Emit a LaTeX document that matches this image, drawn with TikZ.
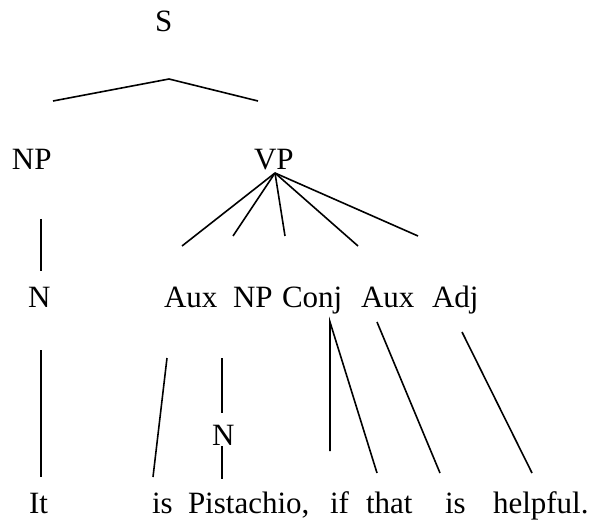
\documentclass[tikz,border=0pt]{standalone}
\usepackage{fontspec}
\setmainfont{Liberation Serif}
\begin{document}
\begin{tikzpicture}[x=1pt,y=-1pt,
  lbl/.style={anchor=base west,inner sep=0pt,outer sep=0pt,font=\fontsize{31}{37}\selectfont},
  edge/.style={line width=1.6pt,line cap=butt}]
\useasboundingbox (0,0) rectangle (589,521);
% labels
\node[lbl] (S) at (155,32) {S};
\node[lbl] (NP1) at (12,170) {NP};
\node[lbl] (VP) at (254,170) {VP};
\node[lbl] (N1) at (28,308) {N};
\node[lbl] (Aux1) at (164,308) {Aux};
\node[lbl] (NP2) at (233,308) {NP};
\node[lbl] (Conj) at (282,308) {Conj};
\node[lbl] (Aux2) at (361,308) {Aux};
\node[lbl] (Adj) at (432,308) {Adj};
\node[lbl] (N2) at (212,445) {N};
\node[lbl] (w1) at (29,513) {It};
\node[lbl] (w2) at (152,513) {is};
\node[lbl] (w3) at (188,513) {Pistachio,};
\node[lbl] (w4) at (330,513) {if};
\node[lbl] (w5) at (366,513) {that};
\node[lbl] (w6) at (445,513) {is};
\node[lbl] (w7) at (493,513) {helpful.};
% connector end points
\coordinate (sA) at (169,79);
\coordinate (sL) at (53,101);
\coordinate (sR) at (258,101);
\coordinate (vA) at (275,173);
\coordinate (v1) at (182,246);
\coordinate (v2) at (233,236);
\coordinate (v3) at (285,236);
\coordinate (v4) at (358,246);
\coordinate (v5) at (418,236);
\coordinate (n1a) at (40.7,219);
\coordinate (n1b) at (40.7,271);
\coordinate (it1) at (41,350);
\coordinate (it2) at (41,477);
\coordinate (is1) at (167,358);
\coordinate (is2) at (153,477);
\coordinate (np2a) at (222,358);
\coordinate (np2b) at (222,413);
\coordinate (n2a) at (222,446);
\coordinate (n2b) at (222,479);
\coordinate (cA) at (330,322);
\coordinate (c1) at (330,451);
\coordinate (c2) at (377,473);
\coordinate (a2a) at (377,322);
\coordinate (a2b) at (440,473);
\coordinate (adja) at (462,332);
\coordinate (adjb) at (532,473);
% connectors
\draw[edge] (sL) -- (sA) -- (sR);
\foreach \e in {v1,v2,v3,v4,v5} \draw[edge] (vA) -- (\e);
\draw[edge] (n1a) -- (n1b);
\draw[edge] (it1) -- (it2);
\draw[edge] (is1) -- (is2);
\draw[edge] (np2a) -- (np2b);
\draw[edge] (n2a) -- (n2b);
\draw[edge] (c1) -- (cA) -- (c2);
\draw[edge] (a2a) -- (a2b);
\draw[edge] (adja) -- (adjb);
\end{tikzpicture}
\end{document}
